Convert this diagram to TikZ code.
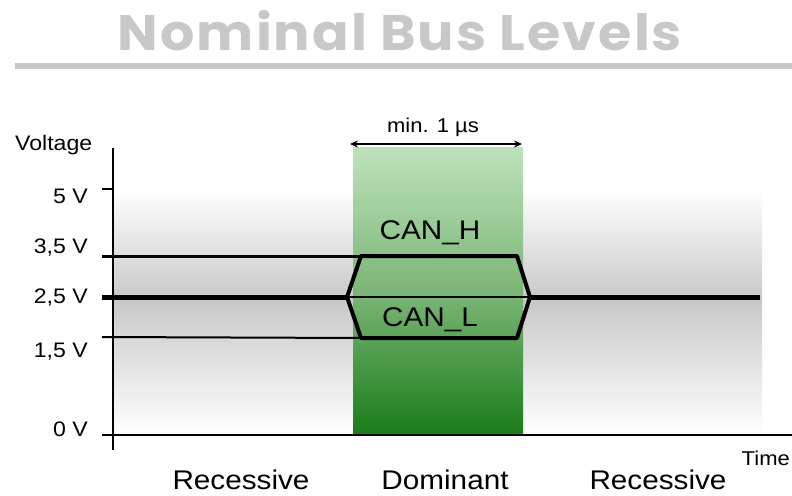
\documentclass[tikz,border=0pt]{standalone}
\usepackage{fontspec}
\setmainfont{Liberation Sans}[FakeStretch=1.1]
\newfontfamily\titlefont{Poppins}[FakeStretch=1.08, LetterSpace=4]
\usetikzlibrary{arrows.meta}

\definecolor{titlegray}{RGB}{200,200,200}
\definecolor{bandgray}{RGB}{200,200,200}
\definecolor{greentop}{RGB}{190,226,188}
\definecolor{greenmid}{RGB}{120,180,115}
\definecolor{greenbot}{RGB}{25,125,25}

\begin{document}
\begin{tikzpicture}
	[x=1pt, y=-1pt,
	every node/.style={inner sep=0pt, font=\fontsize{21}{21}\selectfont},
	big/.style={font=\fontsize{27}{27}\selectfont},
	level/.style={line width=#1, line cap=butt},
	axis/.style={line width=1.5pt}]
	\useasboundingbox (0,0) rectangle (792,495);
	% title and rule
	\node (title) [text=titlegray, font=\titlefont\bfseries\fontsize{50}{50}\selectfont] at (400,31) {Nominal Bus Levels};
	\fill [titlegray] (15,63) rectangle (792,69);
	% grey background band
	\shade [top color=white, bottom color=bandgray] (113,188) rectangle (762,300);
	\shade [top color=bandgray, bottom color=white] (113,300) rectangle (762,435);
	% dominant bit
	\shade [top color=greentop, bottom color=greenmid] (353,147) rectangle (523,297);
	\shade [top color=greenmid, bottom color=greenbot] (353,297) rectangle (523,435);
	% levels
	\coordinate (h0) at (102,256);
	\coordinate (l0) at (102,337);
	\coordinate (m0) at (102,297);
	\coordinate (hl) at (361,256);
	\coordinate (hr) at (517,256);
	\coordinate (ll) at (361,338);
	\coordinate (lr) at (517,338);
	\coordinate (ml) at (347,297);
	\coordinate (mr) at (530,297);
	\coordinate (m1) at (760,297);
	\draw [level=3pt] (h0) -- (hl);
	\draw [level=2pt] (l0) -- (ll);
	\draw [level=5pt] (m0) -- (ml);
	\draw [level=5pt] (mr) -- (m1);
	\draw [level=1.5pt] (ml) -- (mr);
	\draw [line width=4pt, line join=round] (ml) -- (hl) -- (hr) -- (mr) -- (lr) -- (ll) -- cycle;
	% axes
	\draw [axis] (113,148) -- (113,450);
	\draw [axis] (102,435) -- (792,435);
	\draw [axis] (102,189) -- (113,189);
	% labels
	\node (volt) [anchor=west] at (15,145) {Voltage};
	\node (v5) [anchor=east] at (88,196) {5 V};
	\node (v35) [anchor=east] at (88,248) {3,5 V};
	\node (v25) [anchor=east] at (88,298) {2,5 V};
	\node (v15) [anchor=east] at (88,352) {1,5 V};
	\node (v0) [anchor=east] at (88,429) {0 V};
	\node (time) [anchor=east, font=\fontsize{20}{20}\selectfont] at (790,458) {Time};
	\coordinate (al) at (350,144);
	\coordinate (ar) at (522,144);
	\draw [{Stealth[length=8pt,width=7pt]}-{Stealth[length=8pt,width=7pt]}, line width=1.5pt] (al) -- (ar);
	\node (minbit) [font=\fontsize{20}{20}\selectfont] at (433,127) {min. 1 µs};
	\node (canh) [big] at (430,233) {CAN\_H};
	\node (canl) [big] at (430,320) {CAN\_L};
	\node (rec1) [big] at (241,480) {Recessive};
	\node (dom) [big] at (445,480) {Dominant};
	\node (rec2) [big] at (658,480) {Recessive};
\end{tikzpicture}
\end{document}
